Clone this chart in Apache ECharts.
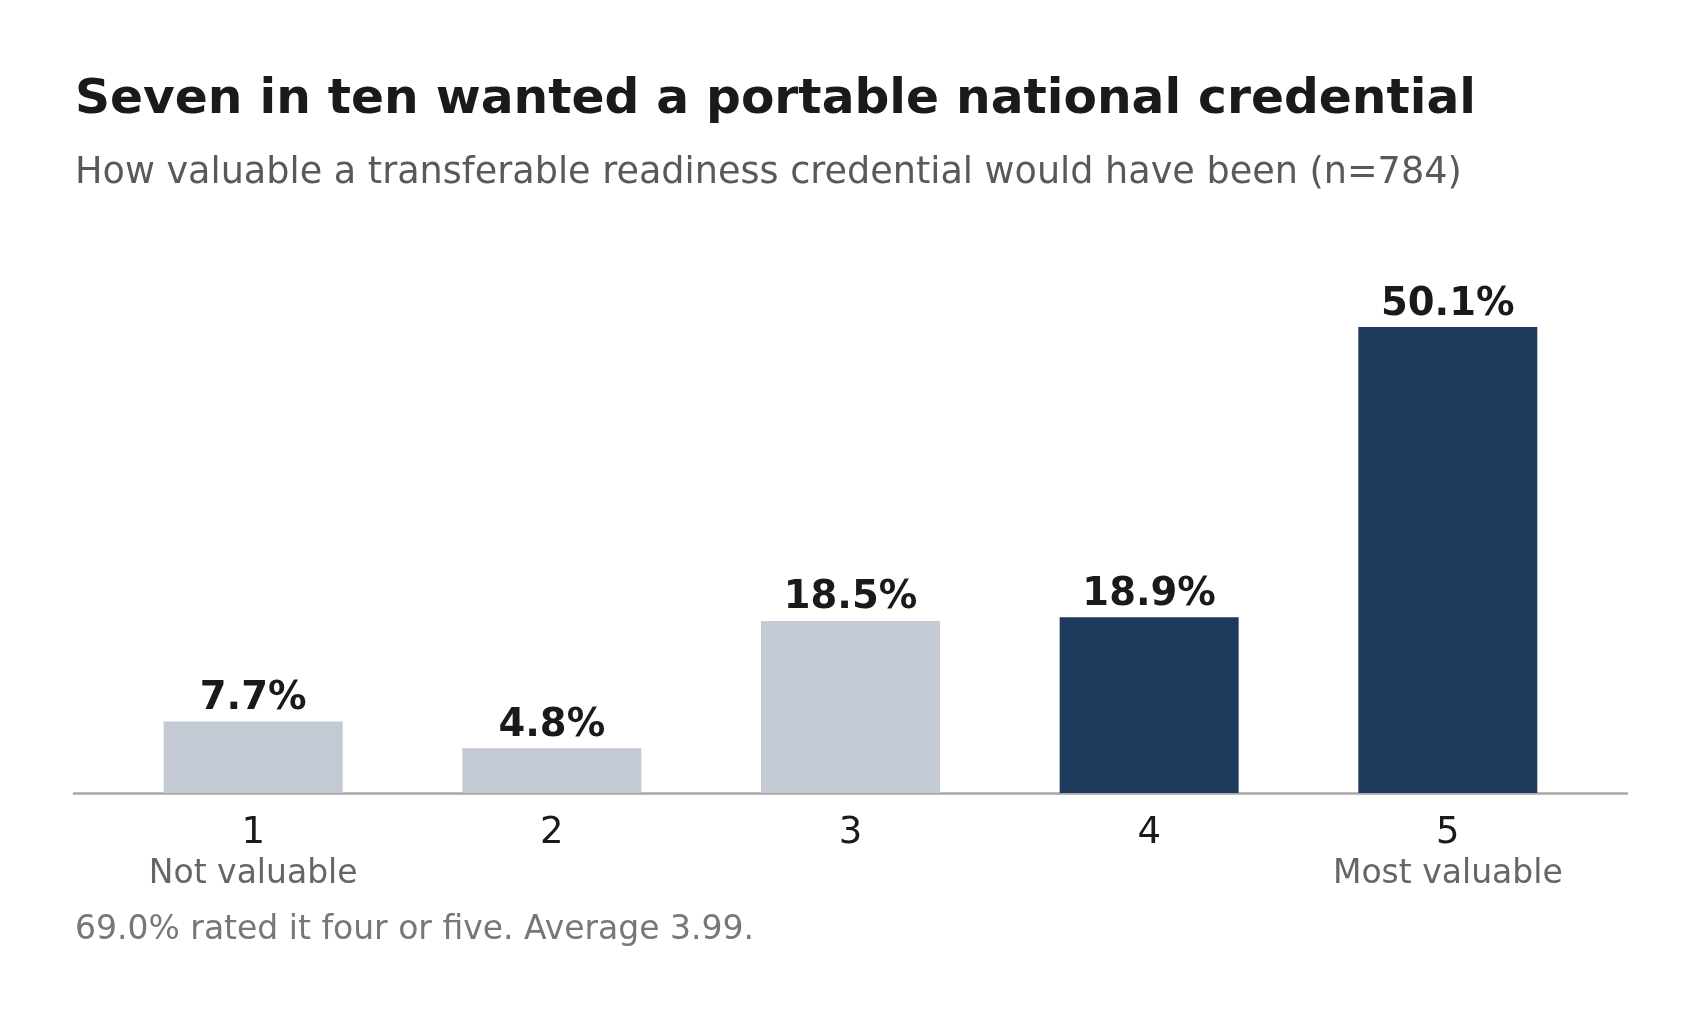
<!DOCTYPE html>
<html>
<head>
<meta charset="utf-8">
<title>Portable national credential</title>
<script src="https://cdn.jsdelivr.net/npm/echarts@6/dist/echarts.min.js"></script>
<style>
  html, body {margin: 0; padding: 0; background: #fff;}
  #chart {width: 1700px; height: 1020px;}
</style>
</head>
<body>
<div id="chart"></div>
<script>
// survey answers, 1 = not valuable .. 5 = most valuable
const ratings = ["1", "2", "3", "4", "5"];
const ratingNotes = ["Not valuable", "", "", "", "Most valuable"];
const shares = [7.7, 4.8, 18.5, 18.9, 50.1];
const topTwo = ["4", "5"];

const FONT = "DejaVu Sans";
const LIGHT = "#c3cad3";
const DARK = "#1d3a5c";

const chart = echarts.init(document.getElementById("chart"));

chart.setOption({
  backgroundColor: "#fff",
  animation: false,
  textStyle: {fontFamily: FONT},
  title: [
    {
      text: "Seven in ten wanted a portable national credential",
      left: 70,
      top: 71,
      textStyle: {fontFamily: FONT, fontSize: 48.7, fontWeight: "bold", color: "#1a1a1a"},
    },
    {
      text: "How valuable a transferable readiness credential would have been (n=784)",
      left: 70,
      top: 150,
      textStyle: {fontFamily: FONT, fontSize: 36.6, fontWeight: "normal", color: "#595959"},
    },
    {
      text: "69.0% rated it four or five. Average 3.99.",
      left: 70,
      top: 909,
      textStyle: {fontFamily: FONT, fontSize: 33, fontWeight: "normal", color: "#777777"},
    },
  ],
  grid: {left: 74, right: 73, top: 235, bottom: 227},
  xAxis: {
    type: "value",
    min: -0.6,
    max: 4.6,
    splitLine: {show: false},
    axisTick: {show: false},
    axisLine: {show: true, lineStyle: {color: "#a8a8a8", width: 2.5}},
    axisLabel: {
      customValues: [0, 1, 2, 3, 4],
      margin: 19,
      formatter: (v) => {
        const i = Math.round(v);
        const note = ratingNotes[i];
        return note ? `{num|${ratings[i]}}\n{note|${note}}` : `{num|${ratings[i]}}`;
      },
      rich: {
        num: {fontFamily: FONT, fontSize: 37, lineHeight: 42, color: "#1a1a1a"},
        note: {fontFamily: FONT, fontSize: 33, lineHeight: 41, color: "#666666"},
      },
    },
  },
  yAxis: {
    type: "value",
    min: 0,
    max: 60,
    show: false,
    splitLine: {show: false},
  },
  series: [{
    type: "bar",
    barWidth: 179,
    data: shares.map((v, i) => ({
      value: [i, v],
      itemStyle: {color: topTwo.includes(ratings[i]) ? DARK : LIGHT},
    })),
    label: {
      show: true,
      position: "top",
      distance: 3,
      formatter: (p) => p.value[1].toFixed(1) + "%",
      fontFamily: FONT,
      fontSize: 38.5,
      fontWeight: "bold",
      color: "#1a1a1a",
    },
  }],
});
</script>
</body>
</html>
